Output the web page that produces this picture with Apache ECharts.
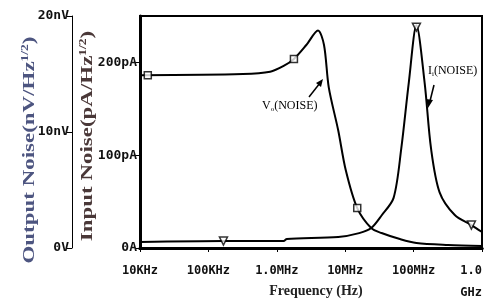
<!DOCTYPE html>
<html>
<head>
<meta charset="utf-8">
<script src="https://cdn.jsdelivr.net/npm/echarts@6/dist/echarts.min.js"></script>
<style>
html,body{margin:0;padding:0;background:#fff;}
#chart{width:489px;height:307px;}
</style>
</head>
<body>
<div id="chart"></div>
<script>
'use strict'
// frequency (Hz) ticks and their labels
var freqTicks = [1e4, 1e5, 1e6, 1e7, 1e8, 1e9]
var freqLabels = ['10KHz', '100KHz', '1.0MHz', '10MHz', '100MHz', '1.0\nGHz']

// Vo(NOISE) in nV/Hz^1/2
var voFreq = [1e4, 3.2e5, 8e5, 1.26e6, 1.78e6, 2.7e6, 4e6, 4.9e6, 5.75e6, 7.9e6, 1.02e7, 1.5e7, 2.4e7, 3.4e7, 6.3e7, 1.1e8, 3.2e8, 1e9]
var voValue = [14.9, 15.0, 15.2, 15.7, 16.3, 17.5, 18.75, 17.5, 13.85, 10.15, 6.7, 3.44, 1.72, 1.29, 0.77, 0.43, 0.26, 0.17]

// Ii(NOISE) in pA/Hz^1/2
var iiFreq = [1e4, 1.66e5, 1.26e6, 1.4e6, 7.9e6, 1.6e7, 2.4e7, 3.4e7, 5.1e7, 6.6e7, 8.5e7, 1.1e8, 1.45e8, 1.8e8, 2.4e8, 4e8, 7e8, 1e9]
var iiValue = [6.5, 7.5, 7.5, 9.7, 11.8, 16, 21.5, 35, 54, 107, 178, 240, 178, 107, 60, 35.5, 24.7, 17.2]

// marker positions
var voMarkFreq = [1.3e4, 1.78e6, 1.5e7]
var voMarkValue = [14.9, 16.3, 3.44]
var iiMarkFreq = [1.66e5, 1.1e8, 7e8]
var iiMarkValue = [7.5, 238, 24.7]

var zip = function (xs, ys) { return xs.map(function (x, i) { return [x, ys[i]] }) }

var chart = echarts.init(document.getElementById('chart'))
var mono = function (size) { return { fontFamily: 'DejaVu Sans Mono', fontWeight: 'bold', fontSize: size, color: '#111' } }
var serif = 'Liberation Serif'
// rotated axis title, stretched along the text like in the scan
var sideTitle = function (x, y, unit, color) {
	return { type: 'text', x: x, y: y, rotation: Math.PI / 2, scaleX: 1.35, z: 10,
		style: { text: '{a|' + unit + '}{s|1/2}{a|)}', align: 'center', verticalAlign: 'middle',
			rich: {
				a: { fontFamily: serif, fontWeight: 'bold', fontSize: 17, fill: color },
				s: { fontFamily: serif, fontWeight: 'bold', fontSize: 10, fill: color, padding: [0, 0, 10, 0] }
			} } }
}
var option = {
	backgroundColor: '#fff',
	animation: false,
	grid: { left: 140, right: 7, top: 16, bottom: 59, show: true, borderColor: '#000', borderWidth: 2, outerBoundsMode: 'none' },
	xAxis: [{
		type: 'log', logBase: 10, min: 1e4, max: 1e9,
		axisLine: { lineStyle: { color: '#000', width: 3 } },
		axisTick: { inside: false, length: 4, lineStyle: { color: '#000', width: 1 } },
		splitLine: { show: false },
		axisLabel: Object.assign({ margin: 12, lineHeight: 22, alignMaxLabel: 'right',
			formatter: function (v) { var i = freqTicks.indexOf(v); return i < 0 ? '' : freqLabels[i] } }, mono(12)),
		name: 'Frequency (Hz)', nameLocation: 'middle', nameGap: 36, nameMoveOverlap: false,
		nameTextStyle: { fontFamily: serif, fontWeight: 'bold', fontSize: 14, color: '#222', verticalAlign: 'top', padding: [0, 0, 0, 10] }
	}, {
		type: 'log', logBase: 10, min: 1e4, max: 1e9, position: 'top',
		axisLine: { lineStyle: { color: '#000', width: 3 } },
		axisTick: { show: false }, axisLabel: { show: false }, splitLine: { show: false }
	}],
	yAxis: [{
		type: 'value', min: 0, max: 250, interval: 100,
		axisLine: { show: true, lineStyle: { color: '#000', width: 3 } },
		axisTick: { show: true, length: 5, lineStyle: { color: '#000' } },
		splitLine: { show: false },
		axisLabel: Object.assign({ margin: 3, showMaxLabel: false,
			formatter: function (v) { return v === 0 ? '0A' : v + 'pA' } }, mono(13))
	}, {
		type: 'value', min: 0, max: 20, interval: 10, position: 'left', offset: 68,
		axisLine: { show: true, lineStyle: { color: '#000', width: 1 } },
		axisTick: { show: true, length: 5, lineStyle: { color: '#000' } },
		splitLine: { show: false },
		axisLabel: Object.assign({ margin: 3,
			formatter: function (v) { return v === 0 ? '0V' : v + 'nV' } }, mono(13))
	}],
	series: [{
		name: 'Vo(NOISE)', type: 'line', yAxisIndex: 1, showSymbol: false, smooth: 0.3,
		lineStyle: { color: '#000', width: 2 },
		data: zip(voFreq, voValue)
	}, {
		name: 'Ii(NOISE)', type: 'line', yAxisIndex: 0, showSymbol: false, smooth: 0.3,
		lineStyle: { color: '#000', width: 2 },
		data: zip(iiFreq, iiValue)
	}, {
		type: 'scatter', yAxisIndex: 1, symbol: 'rect', symbolSize: 7,
		itemStyle: { color: '#fff', borderColor: '#000', borderWidth: 1.5 },
		data: zip(voMarkFreq, voMarkValue), z: 5
	}, {
		type: 'scatter', yAxisIndex: 0, symbol: 'triangle', symbolRotate: 180, symbolSize: 8,
		itemStyle: { color: '#fff', borderColor: '#000', borderWidth: 1.5 },
		data: zip(iiMarkFreq, iiMarkValue), z: 5
	}],
	graphic: [
		sideTitle(30, 150, 'Output Noise(nV/Hz', '#4d5580'),
		sideTitle(88, 136, 'Input Noise(pA/Hz', '#4a3838'),
		{ type: 'text', left: 262, top: 100, style: { text: '{a|V}{s|o}{a|(NOISE)}', rich: {
			a: { fontFamily: serif, fontSize: 12, fill: '#000' },
			s: { fontFamily: serif, fontSize: 7, fill: '#000', padding: [6, 0, 0, 0] } } } },
		{ type: 'line', shape: { x1: 309, y1: 97, x2: 320, y2: 83 }, style: { stroke: '#000', lineWidth: 1.5 } },
		{ type: 'polygon', shape: { points: [[323, 79], [316, 83], [321, 87]] }, style: { fill: '#000' } },
		{ type: 'text', left: 428, top: 65, style: { text: '{a|I}{s|i}{a|(NOISE)}', rich: {
			a: { fontFamily: serif, fontSize: 12, fill: '#000' },
			s: { fontFamily: serif, fontSize: 7, fill: '#000', padding: [6, 0, 0, 0] } } } },
		{ type: 'line', shape: { x1: 434, y1: 85, x2: 430, y2: 101 }, style: { stroke: '#000', lineWidth: 1.5 } },
		{ type: 'polygon', shape: { points: [[428, 108], [426, 99], [433, 100]] }, style: { fill: '#000' } }
	]
}
chart.setOption(option)
window.onresize = chart.resize
</script>
</body>
</html>
